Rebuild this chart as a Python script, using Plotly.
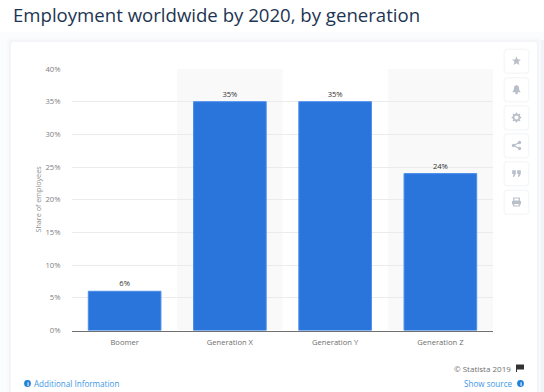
import plotly.graph_objects as go

W, H = 544, 392
categories = ["Boomer", "Generation X", "Generation Y", "Generation Z"]
shares = [6, 35, 35, 24]
share_labels = ["6%", "35%", "35%", "24%"]
y_ticks = [0, 5, 10, 15, 20, 25, 30, 35, 40]
y_tick_labels = ["0%", "5%", "10%", "15%", "20%", "25%", "30%", "35%", "40%"]
title = "Employment worldwide by 2020, by generation"
y_title = "Share of employees"

FONT = "Open Sans"
def px(x): return x / W
def py(y): return 1 - y / H

def rect(x0, y0, x1, y1, fill):
    return dict(type="rect", xref="paper", yref="paper", layer="below",
                x0=px(x0), x1=px(x1), y0=py(y0), y1=py(y1),
                fillcolor=fill, line=dict(width=0))

def rrect(x0, y0, x1, y1, r, fill):
    X0, X1 = px(x0), px(x1); Y0, Y1 = py(y0), py(y1)
    rx, ry = r / W, r / H
    path = (f"M{X0+rx},{Y0} L{X1-rx},{Y0} Q{X1},{Y0} {X1},{Y0-ry} L{X1},{Y1+ry} Q{X1},{Y1} {X1-rx},{Y1} "
            f"L{X0+rx},{Y1} Q{X0},{Y1} {X0},{Y1+ry} L{X0},{Y0-ry} Q{X0},{Y0} {X0+rx},{Y0} Z")
    return dict(type="path", xref="paper", yref="paper", layer="below", path=path,
                fillcolor=fill, line=dict(width=0))

def poly(points, fill="#b9bfc8", layer="above", line=None):
    d = "M" + " L".join(f"{px(x)},{py(y)}" for x, y in points) + " Z"
    return dict(type="path", xref="paper", yref="paper", layer=layer, path=d, fillcolor=fill,
                line=dict(width=1.2 if line else 0, color=line or "rgba(0,0,0,0)"))

def dot(cx, cy, r, fill="#b9bfc8", line=None):
    return dict(type="circle", xref="paper", yref="paper", layer="above",
                x0=px(cx - r), x1=px(cx + r), y0=py(cy + r), y1=py(cy - r), fillcolor=fill,
                line=dict(width=1.6 if line else 0, color=line or "rgba(0,0,0,0)"))

shapes = []
# page background, soft shadow, card
shapes.append(rect(0, 0, W, H, "#ffffff"))
shapes.append(rect(0, 32, W, H, "#fbfcfd"))
shapes.append(rect(538, 40, W, H, "#f1f3f8"))
shapes.append(rrect(7, 38, 541, H + 6, 5, "#f8f9fb"))
shapes.append(rrect(9, 40, 539, H + 6, 4, "#f4f5f8"))
shapes.append(rrect(11, 42, 537, H + 6, 3, "#ffffff"))
# alternating category bands
for i, c in enumerate(categories):
    if i % 2 == 1:
        shapes.append(dict(type="rect", xref="x", yref="y", layer="below",
                           x0=i - 0.5, x1=i + 0.5, y0=y_ticks[0], y1=y_ticks[-1],
                           fillcolor="#f9f9f9", line=dict(width=0)))
# side icon buttons
icon_y = [61, 89.5, 117.5, 145.5, 173.5, 202]
for cy in icon_y:
    shapes.append(rrect(503.5, cy - 12.5, 529.5, cy + 13, 4, "#f6f7f9"))
    shapes.append(rrect(505, cy - 11, 528, cy + 11.5, 3, "#ffffff"))
ix = 516.5
# star
c = icon_y[0]
shapes.append(poly([(ix, c-4.5), (ix+1.3, c-1.4), (ix+4.4, c-1.4), (ix+2, c+0.8), (ix+2.8, c+4),
                    (ix, c+2.2), (ix-2.8, c+4), (ix-2, c+0.8), (ix-4.4, c-1.4), (ix-1.3, c-1.4)]))
# bell
c = icon_y[1]
shapes.append(poly([(ix, c-4.5), (ix+2.2, c-3.2), (ix+2.8, c+0.5), (ix+4.2, c+2.8), (ix-4.2, c+2.8), (ix-2.8, c+0.5), (ix-2.2, c-3.2)]))
shapes.append(dot(ix, c+3.6, 1.3))
# gear
c = icon_y[2]
shapes.append(dot(ix, c, 2.9, "#ffffff", "#b9bfc8"))
for dx, dy in [(0, -4), (0, 4), (-4, 0), (4, 0), (-2.9, -2.9), (2.9, -2.9), (-2.9, 2.9), (2.9, 2.9)]:
    shapes.append(dot(ix + dx, c + dy, 0.9))
# share
c = icon_y[3]
shapes.append(poly([(ix-3, c), (ix+3, c-3), (ix-3, c), (ix+3, c+3)], line="#b9bfc8"))
for dx, dy in [(-3, 0), (3, -3), (3, 3)]:
    shapes.append(dot(ix + dx, c + dy, 1.7))
# quote
c = icon_y[4]
for dx in (-4.3, 0.7):
    shapes.append(poly([(ix+dx, c-3.3), (ix+dx+3.6, c-3.3), (ix+dx+3.6, c+0.5), (ix+dx+1.8, c+3.6), (ix+dx+0.6, c+3), (ix+dx+1.5, c+0.5), (ix+dx, c+0.5)]))
# printer
c = icon_y[5]
shapes.append(poly([(ix-2.8, c-4), (ix+2.8, c-4), (ix+2.8, c-1), (ix-2.8, c-1)], "#ffffff", line="#b9bfc8"))
shapes.append(poly([(ix-4.5, c-1), (ix+4.5, c-1), (ix+4.5, c+2.5), (ix-4.5, c+2.5)]))
shapes.append(poly([(ix-2.8, c+1.5), (ix+2.8, c+1.5), (ix+2.8, c+4), (ix-2.8, c+4)], "#ffffff", line="#b9bfc8"))
# info dots and flag
shapes.append(dot(27.5, 383.5, 3.4, "#1f82d8"))
shapes.append(dot(520.5, 383.5, 3.4, "#1f82d8"))
shapes.append(poly([(516, 364.5), (524, 364.5), (524, 369.5), (517, 369.5), (517, 372), (516, 372)], "#333333"))

annotations = [
    dict(x=px(11), y=py(14.5), xanchor="left", yanchor="middle", text=title,
         font=dict(family=FONT, size=18.6, color="#1d3552")),
    dict(x=px(37.5), y=py(199), xanchor="center", yanchor="middle", text=y_title, textangle=-90,
         font=dict(family=FONT, size=7.2, color="#8f8f8f")),
    dict(x=px(512.5), y=py(368), xanchor="right", yanchor="middle", text="© Statista 2019",
         font=dict(family=FONT, size=8, color="#707070")),
    dict(x=px(32), y=py(383.5), xanchor="left", yanchor="middle", text="Additional Information",
         font=dict(family=FONT, size=8.1, color="#3d97e6")),
    dict(x=px(515), y=py(383.5), xanchor="right", yanchor="middle", text="Show source",
         font=dict(family=FONT, size=8.1, color="#3d97e6")),
    dict(x=px(27.5), y=py(383.5), xanchor="center", yanchor="middle", text="<b>i</b>",
         font=dict(family=FONT, size=6, color="#ffffff")),
    dict(x=px(520.5), y=py(383.5), xanchor="center", yanchor="middle", text="<b>i</b>",
         font=dict(family=FONT, size=6, color="#ffffff")),
]
for a in annotations:
    a.update(xref="paper", yref="paper", showarrow=False)

fig = go.Figure(go.Bar(
    x=list(range(len(categories))), y=shares,
    marker=dict(color="#2a75dc", line=dict(color="#4a8dec", width=1)),
    text=share_labels, textposition="outside", cliponaxis=False,
    textfont=dict(family=FONT, size=7.6, color="#333333"),
))
fig.update_layout(
    width=W, height=H, autosize=False,
    margin=dict(l=0, r=0, t=0, b=0, pad=0, autoexpand=False),
    paper_bgcolor="#ffffff", plot_bgcolor="rgba(0,0,0,0)",
    bargap=0.31, showlegend=False,
    shapes=shapes, annotations=annotations,
    xaxis=dict(domain=[px(72), px(493)], range=[-0.5, 3.5], tickmode="array",
               tickvals=list(range(len(categories))), ticktext=categories,
               showgrid=False, zeroline=False, showline=True, linecolor="#707070", linewidth=1,
               ticks="outside", ticklen=4, tickcolor="rgba(0,0,0,0)",
               tickfont=dict(family=FONT, size=7.6, color="#6e6e6e")),
    yaxis=dict(domain=[py(330.5), py(69)], range=[y_ticks[0], y_ticks[-1]], tickmode="array",
               tickvals=y_ticks, ticktext=y_tick_labels,
               showgrid=True, gridcolor="#ebebeb", gridwidth=1, zeroline=False, showline=False,
               ticks="outside", ticklen=9, tickcolor="rgba(0,0,0,0)",
               tickfont=dict(family=FONT, size=7.6, color="#808080")),
)
fig.write_html("out.html", config={"displayModeBar": False}, post_script="document.body.style.margin='0';")
